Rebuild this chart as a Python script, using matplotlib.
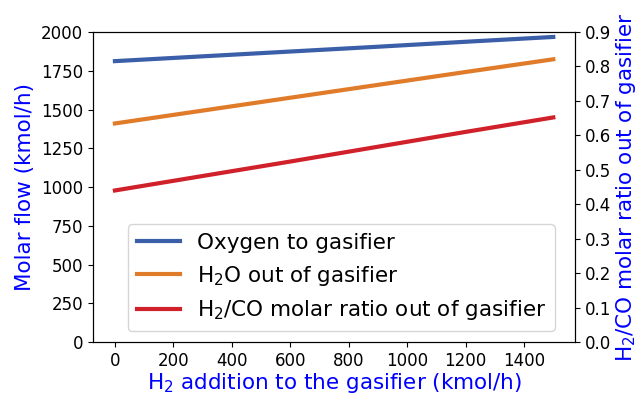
import matplotlib
matplotlib.use("Agg")
import matplotlib.pyplot as plt

h2_add = [0, 300, 600, 900, 1200, 1500]
oxygen = [1812, 1843, 1874, 1905, 1937, 1968]
h2o = [1410, 1493, 1576, 1659, 1742, 1824]
ratio = [0.440, 0.482, 0.524, 0.567, 0.610, 0.652]

fig = plt.figure(figsize=(6.37, 3.95), dpi=100)
ax = fig.add_axes([0.146, 0.134, 0.757, 0.785])
ax2 = ax.twinx()

l1, = ax.plot(h2_add, oxygen, color="#3b5ea8", lw=3, label="Oxygen to gasifier")
l2, = ax.plot(h2_add, h2o, color="#e07b2a", lw=3, label="H$_2$O out of gasifier")
l3, = ax2.plot(h2_add, ratio, color="#d0202a", lw=3, label="H$_2$/CO molar ratio out of gasifier")

ax.set_ylim(0, 2000)
ax.set_yticks([0, 250, 500, 750, 1000, 1250, 1500, 1750, 2000])
ax2.set_ylim(0, 0.9)
ax2.set_yticks([0.0, 0.1, 0.2, 0.3, 0.4, 0.5, 0.6, 0.7, 0.8, 0.9])
ax.set_xticks([0, 200, 400, 600, 800, 1000, 1200, 1400])

ax.tick_params(labelsize=12)
ax2.tick_params(labelsize=12)
ax.set_xlabel("H$_2$ addition to the gasifier (kmol/h)", color="blue", fontsize=15.5, labelpad=1)
ax.set_ylabel("Molar flow (kmol/h)", color="blue", fontsize=15.5, labelpad=4)
ax2.set_ylabel("H$_2$/CO molar ratio out of gasifier", color="blue", fontsize=15.5, labelpad=2)

ax2.legend(handles=[l1, l2, l3], loc="lower left", bbox_to_anchor=(128/637, 1-331/395),
           bbox_transform=fig.transFigure, borderaxespad=0,
           fontsize=15.5, handlelength=2.0)

fig.savefig("out.png", dpi=100)
